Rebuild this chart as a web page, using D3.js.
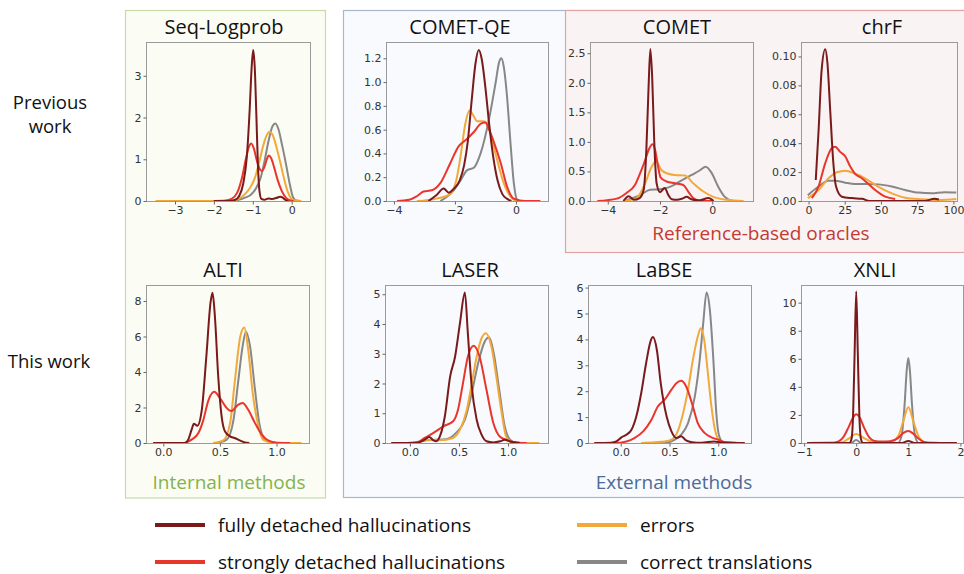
<!DOCTYPE html>
<html><head><meta charset="utf-8">
<script src="https://cdn.jsdelivr.net/npm/d3@7"></script>
<style>body{margin:0;background:#fff}svg{display:block}</style>
</head><body><svg id="c" width="964" height="574"></svg>
<script>
// ---------- DATA ----------
const seriesNames = ["fully detached hallucinations","strongly detached hallucinations","errors","correct translations"];
const seriesColors = ["#7a1a1a","#e8362c","#f2a93a","#878787"];

const seqFully = [[-2.0,0],[-1.6,0],[-1.45,0.03],[-1.35,0.12],[-1.25,0.4],[-1.15,1.1],[-1.08,2.2],[-1.03,3.2],[-0.99,3.62],[-0.95,3.2],[-0.91,2.1],[-0.87,0.9],[-0.83,0.25],[-0.78,0.05],[-0.7,0.03],[-0.6,0.06],[-0.5,0.05],[-0.4,0.07],[-0.3,0.1],[-0.23,0.08],[-0.15,0.02],[-0.08,0]];
const seqStrong = [[-2.0,0],[-1.7,0.01],[-1.55,0.05],[-1.4,0.2],[-1.28,0.55],[-1.18,1.0],[-1.1,1.3],[-1.04,1.38],[-0.97,1.25],[-0.9,0.98],[-0.83,0.78],[-0.77,0.72],[-0.7,0.82],[-0.64,1.0],[-0.59,1.09],[-0.53,1.03],[-0.45,0.8],[-0.36,0.5],[-0.26,0.25],[-0.15,0.08],[-0.05,0.02],[0.05,0]];
const seqErr = [[-3.5,0],[-1.6,0],[-1.42,0.03],[-1.28,0.1],[-1.15,0.22],[-1.03,0.38],[-0.93,0.6],[-0.83,0.95],[-0.74,1.3],[-0.65,1.56],[-0.57,1.66],[-0.49,1.58],[-0.4,1.32],[-0.3,0.95],[-0.2,0.55],[-0.1,0.22],[0,0.05],[0.1,0.01],[0.25,0]];
const seqCorr = [[-1.6,0],[-1.4,0.02],[-1.2,0.08],[-1.05,0.15],[-0.92,0.3],[-0.8,0.55],[-0.7,0.95],[-0.6,1.42],[-0.5,1.78],[-0.42,1.86],[-0.34,1.72],[-0.25,1.35],[-0.15,0.9],[-0.06,0.45],[0.03,0.1],[0.12,0.01],[0.2,0]];

const qeFully = [[-2.87,0],[-2.6,0.05],[-2.37,0.105],[-2.2,0.07],[-2.05,0.1],[-1.85,0.17],[-1.7,0.3],[-1.58,0.5],[-1.45,0.85],[-1.33,1.15],[-1.22,1.27],[-1.12,1.19],[-1.0,0.95],[-0.88,0.65],[-0.75,0.38],[-0.6,0.17],[-0.45,0.06],[-0.3,0.02],[-0.15,0]];
const qeStrong = [[-3.9,0],[-3.5,0.01],[-3.25,0.04],[-3.03,0.08],[-2.76,0.09],[-2.48,0.15],[-2.15,0.32],[-1.88,0.46],[-1.66,0.51],[-1.38,0.58],[-1.15,0.65],[-1.0,0.66],[-0.88,0.6],[-0.73,0.5],[-0.5,0.32],[-0.29,0.12],[-0.07,0.02],[0.3,0],[0.8,0]];
const qeErr = [[-3.25,0],[-2.6,0.02],[-2.15,0.06],[-1.95,0.18],[-1.82,0.37],[-1.66,0.65],[-1.52,0.76],[-1.4,0.72],[-1.27,0.67],[-1.05,0.67],[-0.89,0.61],[-0.67,0.4],[-0.4,0.15],[-0.12,0.02],[0.04,0]];
const qeCorr = [[-2.48,0],[-2.04,0.09],[-1.8,0.18],[-1.6,0.26],[-1.38,0.28],[-1.16,0.4],[-0.89,0.68],[-0.67,0.99],[-0.55,1.17],[-0.48,1.2],[-0.4,1.13],[-0.3,0.9],[-0.18,0.49],[-0.07,0.15],[0.04,0.01],[0.15,0]];

const cometFully = [[-3.4,0],[-3.2,0.08],[-3.0,0.02],[-2.78,0.05],[-2.62,0.2],[-2.52,0.9],[-2.44,1.9],[-2.37,2.57],[-2.3,2.1],[-2.22,1.0],[-2.13,0.3],[-2.0,0.15],[-1.82,0.22],[-1.68,0.1],[-1.55,0.03],[-1.35,0.02],[-1.15,0.04],[-0.98,0.07],[-0.8,0.03],[-0.5,0.01],[-0.15,0.05],[0.05,0]];
const cometStrong = [[-4.4,0],[-3.65,0.04],[-3.27,0.14],[-2.96,0.27],[-2.76,0.47],[-2.57,0.69],[-2.42,0.88],[-2.28,0.96],[-2.18,0.85],[-2.08,0.6],[-1.98,0.4],[-1.75,0.33],[-1.43,0.3],[-1.11,0.27],[-0.92,0.16],[-0.73,0.05],[-0.5,0.01],[0,0]];
const cometErr = [[-3.4,0],[-2.9,0.05],[-2.57,0.3],[-2.32,0.58],[-2.15,0.67],[-1.94,0.52],[-1.68,0.46],[-1.43,0.44],[-1.04,0.43],[-0.73,0.3],[-0.34,0.16],[0.04,0.07],[0.55,0.02],[1.2,0]];
const cometCorr = [[-3.4,0],[-2.76,0.1],[-2.38,0.19],[-2.0,0.2],[-1.62,0.24],[-1.24,0.33],[-0.79,0.44],[-0.47,0.52],[-0.25,0.58],[-0.03,0.48],[0.23,0.24],[0.48,0.07],[0.8,0]];

const chrfFully = [[5,0.0145],[7,0.05],[9,0.09],[11.5,0.105],[13,0.096],[15,0.062],[17,0.028],[19,0.01],[23,0.003],[30,0.002],[37,0.0015],[42,0],[80,0],[87,0.0015],[90,0.001]];
const chrfStrong = [[2.3,0.002],[6.9,0.01],[11.5,0.026],[16,0.0365],[18.4,0.0376],[21.8,0.034],[25.3,0.031],[28.7,0.024],[32,0.019],[36.8,0.0157],[40,0.013],[46,0.0076],[53,0.003],[59.8,0.0014]];
const chrfErr = [[-0.5,0.002],[6.9,0.0076],[13.8,0.0157],[19.5,0.0199],[25.3,0.021],[32,0.019],[39,0.0157],[48,0.01],[57.5,0.0053],[66.7,0.0023],[78,0.0012],[89.6,0.0007],[102,0.0014]];
const chrfCorr = [[-0.5,0.004],[6.9,0.01],[13.8,0.014],[18.4,0.014],[25.3,0.0127],[32,0.0118],[39,0.0118],[48,0.0115],[57.5,0.01],[66.7,0.0076],[75.9,0.0058],[85,0.0053],[94,0.006],[102,0.0058]];

const altiFully = [[-0.09,0],[0.19,0],[0.22,0.19],[0.25,0.75],[0.27,1.09],[0.3,0.97],[0.34,1.87],[0.38,4.87],[0.418,7.96],[0.435,8.46],[0.456,7.1],[0.485,3.75],[0.515,1.5],[0.544,0.66],[0.59,0.37],[0.63,0.28],[0.68,0.13],[0.72,0.03],[0.76,0]];
const altiStrong = [[0.19,0],[0.25,0.19],[0.31,0.56],[0.35,1.22],[0.4,2.43],[0.45,2.88],[0.5,2.53],[0.56,1.97],[0.6,1.8],[0.66,2.15],[0.7,2.25],[0.75,1.87],[0.81,1.12],[0.87,0.47],[0.93,0.13],[1.0,0.02],[1.12,0]];
const altiErr = [[0.44,0],[0.53,0.15],[0.59,1.12],[0.63,3.37],[0.68,6.0],[0.715,6.5],[0.75,5.24],[0.79,2.81],[0.84,0.94],[0.88,0.19],[0.97,0.02],[1.22,0]];
const altiCorr = [[0.47,0],[0.56,0.19],[0.62,1.3],[0.66,3.37],[0.7,5.43],[0.73,6.27],[0.765,5.5],[0.81,3.0],[0.85,1.03],[0.9,0.19],[1.0,0]];

const laserFully = [[-0.19,0],[0.07,0.01],[0.15,0.11],[0.197,0.2],[0.24,0.09],[0.27,0.06],[0.305,0.22],[0.356,0.9],[0.41,2.24],[0.46,2.9],[0.51,4.03],[0.56,5.06],[0.59,3.7],[0.627,2.0],[0.68,0.78],[0.73,0.28],[0.78,0.06],[0.85,0.02],[0.92,0.06],[0.966,0.11],[1.02,0.05],[1.12,0]];
const laserStrong = [[-0.17,0],[0.07,0.01],[0.15,0.17],[0.24,0.34],[0.34,0.56],[0.44,0.73],[0.49,1.12],[0.54,2.0],[0.59,2.9],[0.65,3.27],[0.71,2.9],[0.78,1.79],[0.85,0.67],[0.915,0.22],[0.98,0.11],[1.03,0.05],[1.1,0.01],[1.19,0]];
const laserErr = [[-0.19,0],[0.07,0.01],[0.17,0.11],[0.305,0.09],[0.44,0.17],[0.51,0.45],[0.58,1.12],[0.63,2.0],[0.68,2.9],[0.73,3.52],[0.775,3.69],[0.83,3.24],[0.88,2.24],[0.93,1.12],[0.98,0.22],[1.03,0.05],[1.1,0.01],[1.32,0]];
const laserCorr = [[0.03,0],[0.17,0.09],[0.37,0.13],[0.47,0.34],[0.56,0.78],[0.63,1.68],[0.695,2.68],[0.756,3.36],[0.807,3.55],[0.854,3.02],[0.91,1.79],[0.966,0.56],[1.02,0.11],[1.08,0]];

const labseFully = [[-0.27,0],[-0.1,0.01],[-0.045,0.06],[0.007,0.22],[0.058,0.32],[0.11,0.51],[0.16,1.03],[0.21,1.93],[0.26,3.08],[0.31,3.98],[0.33,4.09],[0.37,3.6],[0.41,2.31],[0.47,1.03],[0.52,0.45],[0.57,0.19],[0.62,0.26],[0.67,0.1],[0.73,0.03],[0.83,0.01],[0.96,0.06],[1.03,0.02],[1.27,0]];
const labseStrong = [[-0.27,0],[-0.06,0],[0.058,0.06],[0.14,0.19],[0.23,0.45],[0.315,0.9],[0.38,1.41],[0.45,1.67],[0.52,2.06],[0.57,2.31],[0.62,2.4],[0.67,2.19],[0.73,1.54],[0.79,0.77],[0.86,0.39],[0.93,0.22],[1.0,0.13],[1.07,0.03],[1.27,0]];
const labseErr = [[0.21,0],[0.35,0.03],[0.45,0.06],[0.52,0.13],[0.59,0.51],[0.64,1.16],[0.69,2.06],[0.74,3.21],[0.79,4.11],[0.82,4.43],[0.856,3.98],[0.89,2.83],[0.93,1.41],[0.97,0.45],[1.02,0.06],[1.1,0]];
const labseCorr = [[0.35,0],[0.49,0.03],[0.555,0.13],[0.62,0.32],[0.69,0.77],[0.76,1.8],[0.81,3.21],[0.846,4.63],[0.88,5.81],[0.914,5.14],[0.95,3.21],[0.98,1.16],[1.01,0.26],[1.05,0.03],[1.27,0]];

const xnliFully = [[-0.94,0],[-0.13,0],[-0.09,0.3],[-0.06,2.0],[-0.03,6.5],[0,10.8],[0.03,6.5],[0.06,2.0],[0.09,0.3],[0.13,0],[0.88,0],[1,0.15],[1.12,0],[1.93,0]];
const xnliStrong = [[-0.94,0],[-0.5,0.01],[-0.35,0.1],[-0.25,0.4],[-0.15,1.1],[-0.07,1.75],[0,2.05],[0.07,1.8],[0.15,1.1],[0.25,0.4],[0.35,0.15],[0.5,0.1],[0.65,0.12],[0.8,0.35],[0.9,0.7],[1,0.85],[1.1,0.65],[1.2,0.3],[1.3,0.08],[1.45,0.01],[1.93,0]];
const xnliErr = [[-0.94,0],[-0.3,0.02],[-0.15,0.3],[0,0.64],[0.15,0.35],[0.3,0.08],[0.45,0.02],[0.65,0.05],[0.8,0.45],[0.9,1.5],[1,2.54],[1.1,1.5],[1.2,0.45],[1.3,0.08],[1.4,0.02],[1.93,0]];
const xnliCorr = [[-0.94,0],[-0.1,0],[0,0.22],[0.1,0],[0.8,0],[0.87,0.5],[0.93,2.8],[0.97,5.2],[1,6.05],[1.03,5.2],[1.07,2.8],[1.13,0.5],[1.2,0],[1.93,0]];

const seqXTicks = [-3,-2,-1,0],        seqYTicks = [0,1,2,3];
const qeXTicks = [-4,-2,0],            qeYTicks = [0,0.2,0.4,0.6,0.8,1.0,1.2];
const cometXTicks = [-4,-2,0],         cometYTicks = [0,0.5,1.0,1.5,2.0,2.5];
const chrfXTicks = [0,25,50,75,100],   chrfYTicks = [0,0.02,0.04,0.06,0.08,0.10];
const altiXTicks = [0,0.5,1.0],        altiYTicks = [0,2,4,6,8];
const laserXTicks = [0,0.5,1.0],       laserYTicks = [0,1,2,3,4,5];
const labseXTicks = [0,0.5,1.0],       labseYTicks = [0,1,2,3,4,5,6];
const xnliXTicks = [-1,0,1,2],         xnliYTicks = [0,2,4,6,8,10];

// ---------- LAYOUT ----------
const panels = [
 {title:"Seq-Logprob", s:[seqFully,seqStrong,seqErr,seqCorr], f:[146,42,310,201], xd:[-3.745,0.47], yd:[0,3.81], xt:seqXTicks, yt:seqYTicks, xf:"d", yf:"d", tx:224, ty:34},
 {title:"COMET-QE", s:[qeFully,qeStrong,qeErr,qeCorr], f:[386,42,548,201], xd:[-4.26,1.05], yd:[0,1.337], xt:qeXTicks, yt:qeYTicks, xf:"d", yf:".1f", tx:460, ty:34},
 {title:"COMET", s:[cometFully,cometStrong,cometErr,cometCorr], f:[590,42,753,201], xd:[-4.68,1.56], yd:[0,2.69], xt:cometXTicks, yt:cometYTicks, xf:"d", yf:".1f", tx:677, ty:34},
 {title:"chrF", s:[chrfFully,chrfStrong,chrfErr,chrfCorr], f:[801,42,957,201], xd:[-5.2,102.5], yd:[0,0.110], xt:chrfXTicks, yt:chrfYTicks, xf:"d", yf:".2f", tx:882, ty:34},
 {title:"ALTI", s:[altiFully,altiStrong,altiErr,altiCorr], f:[146,285,309,443], xd:[-0.153,1.287], yd:[0,8.9], xt:altiXTicks, yt:altiYTicks, xf:".1f", yf:"d", tx:223, ty:277},
 {title:"LASER", s:[laserFully,laserStrong,laserErr,laserCorr], f:[385,285,548,443], xd:[-0.254,1.407], yd:[0,5.31], xt:laserXTicks, yt:laserYTicks, xf:".1f", yf:"d", tx:470, ty:277},
 {title:"LaBSE", s:[labseFully,labseStrong,labseErr,labseCorr], f:[588,285,751,443], xd:[-0.336,1.336], yd:[0,6.1], xt:labseXTicks, yt:labseYTicks, xf:".1f", yf:"d", tx:664, ty:277},
 {title:"XNLI", s:[xnliFully,xnliStrong,xnliErr,xnliCorr], f:[801,285,963,443], xd:[-1.06,2.05], yd:[0,11.26], xt:xnliXTicks, yt:xnliYTicks, xf:"d", yf:"d", tx:875, ty:277}
];

const svg = d3.select("#c");
const TF = "'Open Sans', 'Noto Sans', sans-serif";
svg.append("rect").attr("width",964).attr("height",574).attr("fill","#fff");

// group boxes
svg.append("rect").attr("x",125.5).attr("y",10.5).attr("width",200).attr("height",487.5)
  .attr("fill","#fbfcf4").attr("stroke","#c7dba8").attr("stroke-width",1.2);
svg.append("rect").attr("x",343.5).attr("y",10.5).attr("width",630).attr("height",487)
  .attr("fill","#f8fafd").attr("stroke","#a8b7cb").attr("stroke-width",1.2);
svg.append("rect").attr("x",565.5).attr("y",10.5).attr("width",410).attr("height",242)
  .attr("fill","#f9f3f3").attr("stroke","#e2a3a3").attr("stroke-width",1.2);

// group labels
svg.append("text").attr("x",229).attr("y",489).attr("text-anchor","middle")
  .attr("font-family",TF).attr("font-size",19).attr("fill","#84b24c").text("Internal methods");
svg.append("text").attr("x",674).attr("y",489).attr("text-anchor","middle")
  .attr("font-family",TF).attr("font-size",19).attr("fill","#4c6b97").text("External methods");
svg.append("text").attr("x",761).attr("y",240).attr("text-anchor","middle")
  .attr("font-family",TF).attr("font-size",19).attr("fill","#c43a34").text("Reference-based oracles");

// row labels
const rowLab = svg.append("g").attr("font-family",TF).attr("font-size",18.5).attr("fill","#111").attr("text-anchor","middle");
rowLab.append("text").attr("x",50).attr("y",109).text("Previous");
rowLab.append("text").attr("x",50).attr("y",133).text("work");
rowLab.append("text").attr("x",49).attr("y",368).text("This work");

const line = d3.line().curve(d3.curveMonotoneX);

panels.forEach((p,i)=>{
  const [x0,y0,x1,y1] = p.f;
  const x = d3.scaleLinear().domain(p.xd).range([x0,x1]);
  const y = d3.scaleLinear().domain(p.yd).range([y1,y0]);
  const g = svg.append("g");
  const cid = "clip"+i;
  g.append("clipPath").attr("id",cid).append("rect").attr("x",x0).attr("y",y0-1).attr("width",x1-x0).attr("height",y1-y0+1);

  const lines = g.append("g").attr("clip-path",`url(#${cid})`);
  line.x(d=>x(d[0])).y(d=>y(d[1]));
  [3,2,1,0].forEach(k=>{
    lines.append("path").attr("d",line(p.s[k])).attr("fill","none")
      .attr("stroke",seriesColors[k]).attr("stroke-width",2).attr("stroke-linejoin","round");
  });

  g.append("rect").attr("x",x0+0.5).attr("y",y0+0.5).attr("width",x1-x0).attr("height",y1-y0)
    .attr("fill","none").attr("stroke","#9a9a9a").attr("stroke-width",1);

  const ax = g.append("g").attr("transform",`translate(0,${y1+0.5})`)
    .call(d3.axisBottom(x).tickValues(p.xt).tickFormat(d3.format(p.xf)).tickSize(3).tickPadding(2));
  const ay = g.append("g").attr("transform",`translate(${x0+0.5},0)`)
    .call(d3.axisLeft(y).tickValues(p.yt).tickFormat(d3.format(p.yf)).tickSize(3).tickPadding(2));
  [ax,ay].forEach(a=>{
    a.select(".domain").remove();
    a.selectAll("line").attr("stroke","#666");
    a.selectAll("text").attr("font-family","'DejaVu Sans', sans-serif").attr("font-size",11).attr("fill","#333");
  });

  g.append("text").attr("x",p.tx).attr("y",p.ty).attr("text-anchor","middle")
    .attr("font-family",TF).attr("font-size",20).attr("fill","#111").text(p.title);
});

// legend
const leg = [
  {k:0, lx:155, ly:525},
  {k:1, lx:155, ly:562},
  {k:2, lx:577, ly:525},
  {k:3, lx:577, ly:562}
];
leg.forEach(l=>{
  svg.append("line").attr("x1",l.lx).attr("x2",l.lx+50).attr("y1",l.ly).attr("y2",l.ly)
    .attr("stroke",seriesColors[l.k]).attr("stroke-width",4);
  svg.append("text").attr("x",l.lx+63).attr("y",l.ly+6.5).attr("font-family",TF)
    .attr("font-size",19).attr("fill","#111").text(seriesNames[l.k]);
});
</script></body></html>
